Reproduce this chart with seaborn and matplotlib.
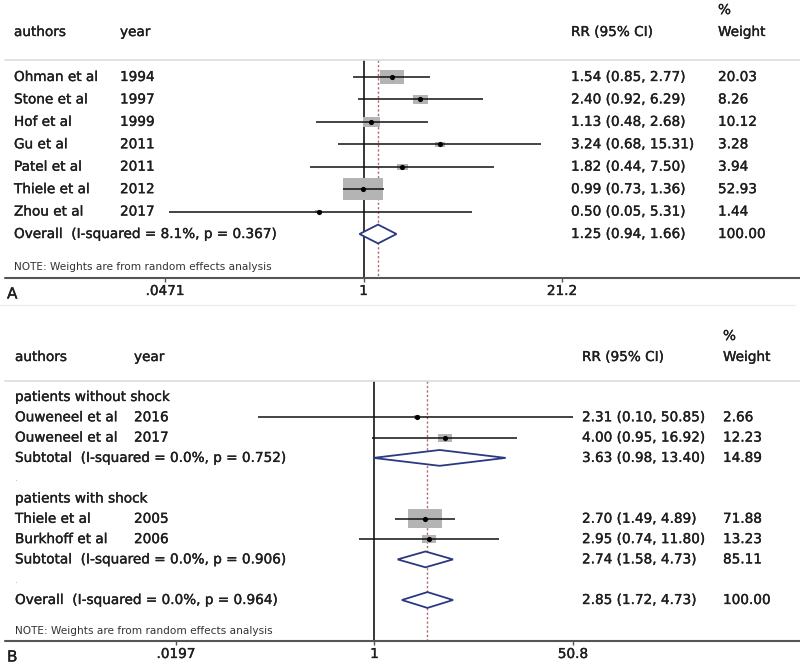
import numpy as np
import pandas as pd
import matplotlib
matplotlib.use("Agg")
import matplotlib.pyplot as plt
import matplotlib.patheffects as pe
import seaborn as sns
from matplotlib.patches import Polygon

# ---- panel A data
a_authors = ["Ohman et al", "Stone et al", "Hof et al", "Gu et al",
             "Patel et al", "Thiele et al", "Zhou et al"]
a_years = ["1994", "1997", "1999", "2011", "2011", "2012", "2017"]
a_rr = [1.54, 2.40, 1.13, 3.24, 1.82, 0.99, 0.50]
a_lo = [0.85, 0.92, 0.48, 0.68, 0.44, 0.73, 0.05]
a_hi = [2.77, 6.29, 2.68, 15.31, 7.50, 1.36, 5.31]
a_weight = [20.03, 8.26, 10.12, 3.28, 3.94, 52.93, 1.44]
a_overall = [1.25, 0.94, 1.66, 100.00]
a_overall_label = "Overall  (I-squared = 8.1%, p = 0.367)"
a_ticks = [0.0471, 1, 21.2]
a_tick_labels = [".0471", "1", "21.2"]

# ---- panel B data
b_groups = ["patients without shock", "patients with shock"]
b_group_of = [0, 0, 1, 1]
b_authors = ["Ouweneel et al", "Ouweneel et al", "Thiele et al", "Burkhoff et al"]
b_years = ["2016", "2017", "2005", "2006"]
b_rr = [2.31, 4.00, 2.70, 2.95]
b_lo = [0.10, 0.95, 1.49, 0.74]
b_hi = [50.85, 16.92, 4.89, 11.80]
b_weight = [2.66, 12.23, 71.88, 13.23]
b_sub_rr = [3.63, 2.74]
b_sub_lo = [0.98, 1.58]
b_sub_hi = [13.40, 4.73]
b_sub_weight = [14.89, 85.11]
b_sub_labels = ["Subtotal  (I-squared = 0.0%, p = 0.752)",
                "Subtotal  (I-squared = 0.0%, p = 0.906)"]
b_overall = [2.85, 1.72, 4.73, 100.00]
b_overall_label = "Overall  (I-squared = 0.0%, p = 0.964)"
b_ticks = [0.0197, 1, 50.8]
b_tick_labels = [".0197", "1", "50.8"]

note = "NOTE: Weights are from random effects analysis"

W, H = 800, 667
TXT = "#1e1e1e"
BOX = "#b4b4b4"
DIAM = "#2b3980"
REF = "#b36a6a"
FS = 9.8
# a touch heavier than plain DejaVu, the scanned figure looks a bit bold
THICK = [pe.withStroke(linewidth=0.25, foreground=TXT)]

sns.set_theme(style="white")
plt.rcParams["font.family"] = ["DejaVu Sans"]

fig = plt.figure(figsize=(8, 6.67), dpi=100)


def ci_text(est, lo, hi):
    return f"{est:.2f} ({lo:.2f}, {hi:.2f})"


def put(ax, x, y, s, **kw):
    kw.setdefault("transform", ax.get_yaxis_transform())
    kw.setdefault("fontsize", FS)
    ax.text(x, y, s, va="center", color=TXT, path_effects=THICK, **kw)


def make_panel(top, bottom, row0, step, ticks, tick_px):
    ax = fig.add_axes([0, 1 - bottom / H, 1, (bottom - top) / H])
    l0, l1 = np.log(ticks[0]), np.log(ticks[-1])
    scale = (tick_px[1] - tick_px[0]) / (l1 - l0)
    ax.set_xscale("log")
    ax.set_xlim(np.exp(l0 - tick_px[0] / scale), np.exp(l0 + (W - tick_px[0]) / scale))
    ax.set_ylim((bottom - row0) / step, (top - row0) / step)
    ax.axis("off")
    return ax, (lambda px: (px - row0) / step)


def draw_panel(ax, rowy, studies, pooled, cols, box_k, diam_h, ticks, tick_labels,
               letter, sep_px, axis_px, tick_lab_px, note_px, head_px, pct_px):
    tr = ax.get_yaxis_transform()
    x_auth, x_year, x_rr, x_w = [c / W for c in cols]

    # header
    put(ax, x_auth, rowy(head_px), "authors")
    put(ax, x_year, rowy(head_px), "year")
    put(ax, x_rr, rowy(head_px), "RR (95% CI)")
    put(ax, x_w, rowy(head_px), "Weight")
    put(ax, x_w, rowy(pct_px), "%")
    ax.axhline(rowy(sep_px), xmin=5 / W, xmax=1, color="#dcdcdc", lw=1.2)

    # reference lines
    ax.vlines(1, rowy(sep_px), rowy(axis_px), color="black", lw=1.1, zorder=1)
    ax.vlines(pooled[-1]["rr"], rowy(sep_px), rowy(axis_px), color=REF, lw=1.0,
              linestyles=(0, (1.6, 1.6)), zorder=1)

    # studies: boxes, CI lines, dots
    df = pd.DataFrame(studies)
    c = (box_k * 0.72) ** 2
    wmin, wmax = df["weight"].min(), df["weight"].max()
    verts = [(-1, -0.56), (1, -0.56), (1, 0.56), (-1, 0.56), (-1, -0.56)]
    sns.scatterplot(data=df, x="rr", y="row", size="weight",
                    sizes=(c * wmin, c * wmax), size_norm=(wmin, wmax),
                    marker=verts, color=BOX, linewidth=0, legend=False, ax=ax, zorder=2)
    ax.hlines(df["row"], df["lo"], df["hi"], color="#111111", lw=1.1, zorder=3)
    sns.scatterplot(data=df, x="rr", y="row", color="black", s=14, linewidth=0,
                    legend=False, ax=ax, zorder=4)
    for _, r in df.iterrows():
        put(ax, x_auth, r["row"], r["author"])
        put(ax, x_year, r["row"], r["year"])
        put(ax, x_rr, r["row"], ci_text(r["rr"], r["lo"], r["hi"]))
        put(ax, x_w, r["row"], f"{r['weight']:.2f}")

    # pooled diamonds
    for p in pooled:
        y = p["row"]
        poly = Polygon([(p["lo"], y), (p["rr"], y - diam_h), (p["hi"], y), (p["rr"], y + diam_h)],
                       closed=True, facecolor="white", edgecolor=DIAM, lw=1.3, zorder=3)
        ax.add_patch(poly)
        put(ax, x_auth, y, p["label"])
        put(ax, x_rr, y, ci_text(p["rr"], p["lo"], p["hi"]))
        put(ax, x_w, y, f"{p['weight']:.2f}")

    # note, x axis
    ax.text(x_auth, rowy(note_px), note, transform=tr, va="center", fontsize=7.6, color="#333333")
    ax.axhline(rowy(axis_px), xmin=5 / W, xmax=1, color="#555555", lw=1.5)
    tick_len = rowy(axis_px + 4) - rowy(axis_px)
    ax.vlines(ticks, rowy(axis_px), rowy(axis_px) + tick_len, color="#555555", lw=1.0)
    for t, lab in zip(ticks, tick_labels):
        put(ax, t, rowy(tick_lab_px), lab, ha="center", transform=ax.transData)
    put(ax, 7 / W, rowy(tick_lab_px + 3), letter, fontsize=11)


# ---- panel A
axA, rowA = make_panel(0, 300, 77, 22.43, a_ticks, (165, 562))
studies_a = [dict(row=i, author=a, year=y, rr=r, lo=l, hi=h, weight=w)
             for i, (a, y, r, l, h, w) in enumerate(zip(a_authors, a_years, a_rr, a_lo, a_hi, a_weight))]
pooled_a = [dict(row=len(a_authors), rr=a_overall[0], lo=a_overall[1], hi=a_overall[2],
                 weight=a_overall[3], label=a_overall_label)]
draw_panel(axA, rowA, studies_a, pooled_a, (14, 120, 571, 718), 5.4, 0.42,
           a_ticks, a_tick_labels, "A", sep_px=60, axis_px=278, tick_lab_px=291,
           note_px=267, head_px=32, pct_px=10)

# ---- panel B
axB, rowB = make_panel(305, 667, 397, 20.3, b_ticks, (176, 573))
trB = axB.get_yaxis_transform()
studies_b, pooled_b = [], []
row = 0
for g, gname in enumerate(b_groups):
    put(axB, 15 / W, row, gname)
    row += 1
    for i in [k for k, gg in enumerate(b_group_of) if gg == g]:
        studies_b.append(dict(row=row, author=b_authors[i], year=b_years[i], rr=b_rr[i],
                              lo=b_lo[i], hi=b_hi[i], weight=b_weight[i]))
        row += 1
    pooled_b.append(dict(row=row, rr=b_sub_rr[g], lo=b_sub_lo[g], hi=b_sub_hi[g],
                         weight=b_sub_weight[g], label=b_sub_labels[g]))
    row += 1
    axB.text(15 / W, row, ".", transform=trB, va="center", fontsize=7, color="#bbbbbb")
    row += 1
pooled_b.append(dict(row=row, rr=b_overall[0], lo=b_overall[1], hi=b_overall[2],
                     weight=b_overall[3], label=b_overall_label))
draw_panel(axB, rowB, studies_b, pooled_b, (15, 134, 582, 723), 4.0, 0.39,
           b_ticks, b_tick_labels, "B", sep_px=381, axis_px=641, tick_lab_px=654,
           note_px=631, head_px=357, pct_px=336)

# faint frame of the top panel
fig.add_artist(plt.Line2D([0, 795 / W], [1 - 305 / H, 1 - 305 / H], color="#eeeeee", lw=1))

fig.savefig("out.png", dpi=100)
